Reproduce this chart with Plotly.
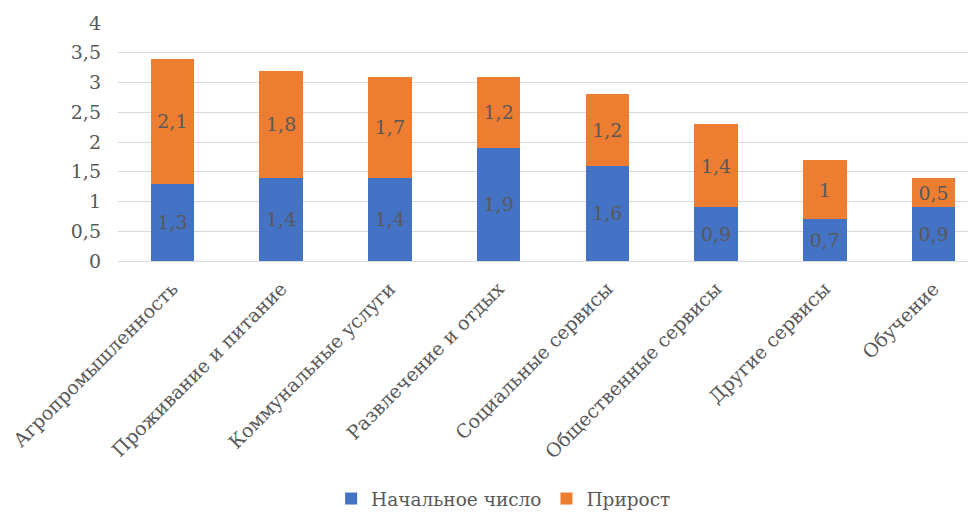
import plotly.graph_objects as go

categories = ["Агропромышленность", "Проживание и питание", "Коммунальные услуги",
              "Развлечение и отдых", "Социальные сервисы", "Общественные сервисы",
              "Другие сервисы", "Обучение"]
initial = [1.3, 1.4, 1.4, 1.9, 1.6, 0.9, 0.7, 0.9]
growth = [2.1, 1.8, 1.7, 1.2, 1.2, 1.4, 1.0, 0.5]
series_names = ["Начальное число", "Прирост"]
y_ticks = [0, 0.5, 1, 1.5, 2, 2.5, 3, 3.5, 4]

FONT = "DejaVu Serif"
GRAY = "#595959"

def fmt(v):
    s = ("%g" % v).replace(".", ",")
    return s

fig = go.Figure()
for name, vals, col in [(series_names[0], initial, "#4472C4"), (series_names[1], growth, "#ED7D31")]:
    fig.add_trace(go.Bar(
        x=categories, y=vals, name=name, marker=dict(color=col, line=dict(width=0)),
        width=0.4, text=[fmt(v) for v in vals], textposition="inside",
        insidetextanchor="middle", textangle=0,
        textfont=dict(family=FONT, size=19, color=GRAY),
    ))

fig.update_layout(
    barmode="stack",
    width=968, height=510,
    margin=dict(l=110, r=0, t=15, b=257),
    paper_bgcolor="white", plot_bgcolor="white",
    separators=", ",
    font=dict(family=FONT, color=GRAY),
    showlegend=True,
    legend=dict(orientation="h", xref="container", yref="container",
                x=0.512, xanchor="center", y=-0.01, yanchor="bottom",
                font=dict(family=FONT, size=18.5, color=GRAY),
                itemwidth=30, traceorder="normal"),
)
fig.update_xaxes(range=[-0.5, 7.39], tickangle=-45, showgrid=False, showline=False,
                 tickfont=dict(family=FONT, size=19, color=GRAY), ticks="",
                 ticklabelstandoff=12)
fig.update_yaxes(range=[0, 4], tickvals=y_ticks, ticktext=[fmt(v) for v in y_ticks],
                 showgrid=True, gridcolor="#D9D9D9", gridwidth=1.3, zeroline=True,
                 zerolinecolor="#D9D9D9", zerolinewidth=1.3,
                 tickfont=dict(family=FONT, size=19, color=GRAY), ticklabelstandoff=16)

fig.write_html("out.html")
